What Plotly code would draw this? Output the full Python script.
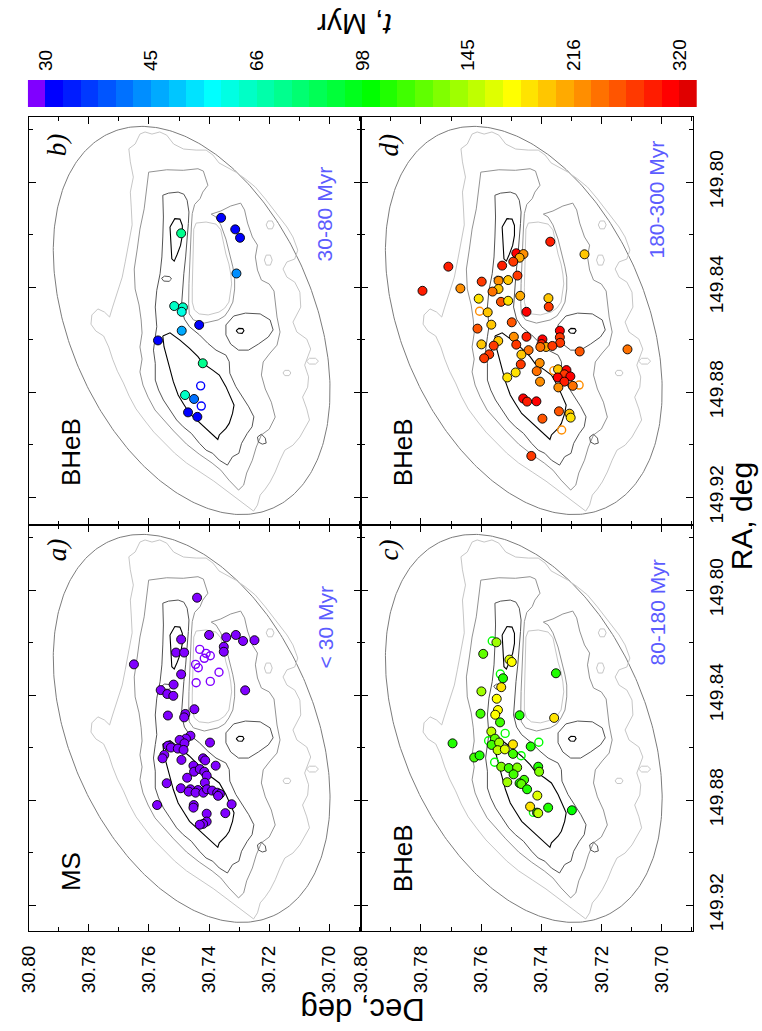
import numpy as np
import plotly.graph_objects as go

FIG_W, FIG_H = 762, 1031
SANS = "Liberation Sans, Arial, Helvetica, sans-serif"
SERIF = "Liberation Serif, Times New Roman, serif"

# ---------------------------------------------------------------- age scale
SCALE_COLORS = [
    "#8000ff", "#0000ff", "#001cff", "#0039ff", "#0055ff", "#0071ff", "#008eff",
    "#00aaff", "#00c6ff", "#00e3ff", "#00ffff", "#00ffe3", "#00ffc6", "#00ffaa",
    "#00ff8e", "#00ff71", "#00ff55", "#00ff39", "#00ff1c", "#00ff00", "#20ff00",
    "#40ff00", "#60ff00", "#80ff00", "#9fff00", "#bfff00", "#dfff00", "#ffff00",
    "#ffe300", "#ffc600", "#ffaa00", "#ff8e00", "#ff7100", "#ff5500", "#ff3900",
    "#ff1c00", "#ff0000", "#e00000",
]
AGE_TICK_LABELS = ["30", "45", "66", "98", "145", "216", "320"]
AGE_LOW, AGE_HIGH = 30.0, 320.0

# ---------------------------------------------------------------- stars
# a) MS, < 30 Myr
MS_AGE = 29.0
A_DEC = [30.7440, 30.7650, 30.7493, 30.7510, 30.7483, 30.7493, 30.7400, 30.7343, 30.7311, 30.7287,
         30.7249, 30.7351, 30.7351, 30.7280, 30.7518, 30.7561, 30.7539, 30.7519, 30.7449, 30.7537,
         30.7479, 30.7483, 30.7462, 30.7477, 30.7498, 30.7482, 30.7537, 30.7527, 30.7504, 30.7485,
         30.7397, 30.7549, 30.7555, 30.7492, 30.7420, 30.7413, 30.7378, 30.7452, 30.7450, 30.7431,
         30.7416, 30.7408, 30.7473, 30.7541, 30.7494, 30.7414, 30.7462, 30.7468, 30.7437, 30.7445,
         30.7419, 30.7407, 30.7390, 30.7373, 30.7364, 30.7370, 30.7325, 30.7573, 30.7451, 30.7452,
         30.7346, 30.7408, 30.7408, 30.7420, 30.7431]
A_RA = [149.8029, 149.8283, 149.8188, 149.8238, 149.8238, 149.8321, 149.8171, 149.8180, 149.8171, 149.8194,
        149.8191, 149.8216, 149.8235, 149.8382, 149.8360, 149.8381, 149.8396, 149.8403, 149.8454, 149.8478,
        149.8472, 149.8485, 149.8555, 149.8566, 149.8571, 149.8584, 149.8593, 149.8600, 149.8604, 149.8609,
        149.8581, 149.8628, 149.8641, 149.8647, 149.8641, 149.8649, 149.8669, 149.8669, 149.8692, 149.8682,
        149.8692, 149.8707, 149.8715, 149.8736, 149.8755, 149.8734, 149.8759, 149.8768, 149.8762, 149.8772,
        149.8772, 149.8759, 149.8764, 149.8772, 149.8777, 149.8784, 149.8816, 149.8819, 149.8819, 149.8829,
        149.8850, 149.8852, 149.8882, 149.8891, 149.8894]
A_OPEN_DEC = [30.7431, 30.7410, 30.7396, 30.7416, 30.7445, 30.7436, 30.7367, 30.7443, 30.7396]
A_OPEN_RA = [149.8226, 149.8241, 149.8250, 149.8260, 149.8283, 149.8296, 149.8313, 149.8353, 149.8348]

# b) BHeB, 30-80 Myr
B_DEC = [30.7360, 30.7313, 30.7297, 30.7309, 30.7493, 30.7516, 30.7487, 30.7491, 30.7433, 30.7491,
         30.7570, 30.7421, 30.7480, 30.7450, 30.7470, 30.7439]
B_RA = [149.8136, 149.8180, 149.8212, 149.8348, 149.8195, 149.8472, 149.8477, 149.8494, 149.8544, 149.8566,
        149.8603, 149.8690, 149.8811, 149.8826, 149.8877, 149.8894]
B_AGE = [31, 32, 31, 42, 75, 66, 64, 58, 31, 47, 31, 72, 64, 40, 31, 32]
B_OPEN_DEC = [30.7428, 30.7426]
B_OPEN_RA = [149.8776, 149.8853]
B_OPEN_AGE = [32, 32]

# c) BHeB, 80-180 Myr
C_DEC = [30.7549, 30.7593, 30.7506, 30.7498, 30.7527, 30.7351, 30.7599, 30.7533, 30.7548, 30.7544,
         30.7553, 30.7602, 30.7472, 30.7357, 30.7537, 30.7566, 30.7554, 30.7565, 30.7540, 30.7545,
         30.7521, 30.7494, 30.7695, 30.7435, 30.7623, 30.7605, 30.7494, 30.7533, 30.7508, 30.7480,
         30.7410, 30.7407, 30.7492, 30.7513, 30.7457, 30.7472, 30.7466, 30.7447, 30.7413, 30.7437,
         30.7377, 30.7298, 30.7414, 30.7410]
C_RA = [149.8199, 149.8243, 149.8265, 149.8274, 149.8336, 149.8317, 149.8386, 149.8370, 149.8414, 149.8457,
        149.8475, 149.8471, 149.8477, 149.8487, 149.8504, 149.8539, 149.8566, 149.8590, 149.8581, 149.8610,
        149.8607, 149.8588, 149.8584, 149.8596, 149.8638, 149.8630, 149.8624, 149.8673, 149.8678, 149.8676,
        149.8673, 149.8692, 149.8702, 149.8732, 149.8723, 149.8736, 149.8739, 149.8759, 149.8783, 149.8825,
        149.8829, 149.8839, 149.8848, 149.8850]
C_AGE = [145, 125, 165, 170, 110, 105, 140, 185, 172, 168,
         172, 112, 108, 178, 118, 150, 120, 115, 145, 150,
         160, 185, 108, 105, 112, 108, 115, 135, 115, 135,
         110, 135, 115, 140, 115, 108, 125, 110, 165, 188,
         108, 104, 110, 150]
C_OPEN_DEC = [30.7563, 30.7536, 30.7520, 30.7575, 30.7408, 30.7467, 30.7555, 30.7426]
C_OPEN_RA = [149.8194, 149.8320, 149.8546, 149.8574, 149.8580, 149.8631, 149.8656, 149.8847]
C_OPEN_AGE = [100, 100, 100, 100, 100, 100, 100, 100]

# d) BHeB, 180-300 Myr
D_DEC = [30.7370, 30.7256, 30.7709, 30.7795, 30.7483, 30.7459, 30.7472, 30.7493, 30.7530, 30.7479,
         30.7598, 30.7542, 30.7510, 30.7669, 30.7542, 30.7562, 30.7470, 30.7608, 30.7534, 30.7510,
         30.7376, 30.7375, 30.7449, 30.7578, 30.7498, 30.7566, 30.7612, 30.7338, 30.7338, 30.7337,
         30.7449, 30.7491, 30.7543, 30.7599, 30.7558, 30.7483, 30.7396, 30.7399, 30.7384, 30.7363,
         30.7403, 30.7442, 30.7272, 30.7113, 30.7573, 30.7590, 30.7466, 30.7468, 30.7405, 30.7415,
         30.7485, 30.7513, 30.7344, 30.7316, 30.7323, 30.7303, 30.7345, 30.7323, 30.7404, 30.7343,
         30.7295, 30.7460, 30.7447, 30.7416, 30.7341, 30.7306, 30.7302, 30.7396, 30.7433]
D_RA = [149.8227, 149.8275, 149.8322, 149.8414, 149.8271, 149.8274, 149.8288, 149.8303, 149.8318, 149.8356,
        149.8379, 149.8376, 149.8373, 149.8405, 149.8407, 149.8417, 149.8433, 149.8444, 149.8456, 149.8452,
        149.8442, 149.8475, 149.8494, 149.8496, 149.8534, 149.8543, 149.8558, 149.8566, 149.8591, 149.8612,
        149.8589, 149.8589, 149.8605, 149.8618, 149.8623, 149.8619, 149.8599, 149.8617, 149.8628, 149.8624,
        149.8628, 149.8640, 149.8645, 149.8637, 149.8656, 149.8671, 149.8657, 149.8694, 149.8689, 149.8720,
        149.8725, 149.8744, 149.8713, 149.8716, 149.8732, 149.8740, 149.8744, 149.8760, 149.8760, 149.8782,
        149.8776, 149.8824, 149.8836, 149.8835, 149.8873, 149.8882, 149.8897, 149.8901, 149.9043]
D_AGE = [285, 195, 290, 290, 300, 225, 205, 280, 285, 265,
         270, 225, 200, 220, 200, 235, 205, 185, 260, 185,
         200, 265, 305, 200, 260, 195, 260, 305, 265, 265,
         295, 230, 200, 200, 275, 265, 300, 290, 210, 275,
         240, 235, 260, 240, 280, 280, 195, 280, 230, 235,
         180, 180, 200, 300, 270, 300, 305, 285, 230, 220,
         235, 300, 285, 300, 260, 195, 180, 260, 265]
D_OPEN_DEC = [30.7605, 30.7358, 30.7274, 30.7332]
D_OPEN_RA = [149.8492, 149.8718, 149.8773, 149.8944]
D_OPEN_AGE = [230, 230, 230, 230]

# ---------------------------------------------------------------- isodensity contours
# lowest level (light grey): outer boundary, inner hole and small islands
L1_OUTER_DEC = [30.7667, 30.7646, 30.7630, 30.7613, 30.7590, 30.7564, 30.7541, 30.7518, 30.7485, 30.7443,
                30.7410, 30.7387, 30.7367, 30.7344, 30.7311, 30.7279, 30.7246, 30.7213, 30.7187, 30.7164,
                30.7141, 30.7121, 30.7105, 30.7115, 30.7141, 30.7154, 30.7141, 30.7115, 30.7098, 30.7095,
                30.7108, 30.7121, 30.7108, 30.7075, 30.7062, 30.7072, 30.7082, 30.7069, 30.7072, 30.7089,
                30.7075, 30.7066, 30.7082, 30.7098, 30.7121, 30.7148, 30.7164, 30.7180, 30.7197, 30.7213,
                30.7230, 30.7239, 30.7252,
                30.7295, 30.7338, 30.7384, 30.7430, 30.7475, 30.7515, 30.7551, 30.7584, 30.7613, 30.7643,
                30.7666, 30.7685, 30.7705, 30.7721, 30.7734, 30.7751, 30.7777, 30.7793, 30.7790, 30.7770,
                30.7748, 30.7731,
                30.7721, 30.7705, 30.7689, 30.7679, 30.7666, 30.7656, 30.7659, 30.7662, 30.7652, 30.7662]
L1_OUTER_RA = [149.7873, 149.7855, 149.7817, 149.7809, 149.7817, 149.7809, 149.7821, 149.7855, 149.7874, 149.7878,
               149.7878, 149.7897, 149.7927, 149.7942, 149.7962, 149.7988, 149.8019, 149.8064, 149.8102, 149.8133,
               149.8171, 149.8209, 149.8259, 149.8293, 149.8304, 149.8331, 149.8362, 149.8381, 149.8419, 149.8476,
               149.8506, 149.8533, 149.8571, 149.8598, 149.8636, 149.8666, 149.8697, 149.8742, 149.8781, 149.8819,
               149.8864, 149.8906, 149.8941, 149.8971, 149.9002, 149.9021, 149.9059, 149.9104, 149.9142, 149.9169,
               149.9192, 149.9230, 149.9253,
               149.9215, 149.9177, 149.9139, 149.9104, 149.9070, 149.9032, 149.8990, 149.8952, 149.8910, 149.8864,
               149.8815, 149.8765, 149.8720, 149.8674, 149.8628, 149.8586, 149.8567, 149.8541, 149.8506, 149.8483,
               149.8495, 149.8514,
               149.8476, 149.8419, 149.8362, 149.8304, 149.8228, 149.8163, 149.8095, 149.8038, 149.7981, 149.7923]
L1_HOLE_DEC = [30.7443, 30.7410, 30.7377, 30.7361, 30.7351, 30.7344, 30.7334, 30.7328, 30.7325, 30.7328,
               30.7334, 30.7348, 30.7367, 30.7403, 30.7433, 30.7449, 30.7456, 30.7456, 30.7454, 30.7452, 30.7451]
L1_HOLE_RA = [149.8156, 149.8152, 149.8160, 149.8182, 149.8236, 149.8274, 149.8312, 149.8350, 149.8388, 149.8419,
              149.8457, 149.8480, 149.8495, 149.8506, 149.8502, 149.8487, 149.8457, 149.8400, 149.8323, 149.8247,
              149.8179]
L1_ISLE1_DEC = [30.7154, 30.7148, 30.7134, 30.7128, 30.7134, 30.7148]
L1_ISLE1_RA = [149.8727, 149.8717, 149.8717, 149.8727, 149.8737, 149.8737]
L1_ISLE2_DEC = [30.7076, 30.7066, 30.7046, 30.7036, 30.7046, 30.7066]
L1_ISLE2_RA = [149.8682, 149.8671, 149.8671, 149.8682, 149.8693, 149.8693]
L1_ISLE3_DEC = [30.7210, 30.7204, 30.7190, 30.7184, 30.7190, 30.7204]
L1_ISLE3_RA = [149.8163, 149.8148, 149.8148, 149.8163, 149.8178, 149.8178]
L1_ISLE4_DEC = [30.7216, 30.7210, 30.7196, 30.7190, 30.7196, 30.7210]
L1_ISLE4_RA = [149.8297, 149.8278, 149.8278, 149.8297, 149.8316, 149.8316]

# second level (mid grey)
L2_DEC = [30.7601, 30.7541, 30.7486, 30.7437, 30.7419, 30.7410, 30.7404, 30.7421, 30.7430, 30.7448,
          30.7456, 30.7459, 30.7462, 30.7465, 30.7467, 30.7468, 30.7466, 30.7452, 30.7416, 30.7370,
          30.7348, 30.7334, 30.7321, 30.7315, 30.7315, 30.7321, 30.7331, 30.7344, 30.7361, 30.7377,
          30.7393, 30.7361, 30.7328, 30.7295, 30.7282, 30.7272, 30.7256, 30.7239, 30.7246, 30.7239,
          30.7226, 30.7200, 30.7184, 30.7180, 30.7174, 30.7164, 30.7174, 30.7197, 30.7220, 30.7226,
          30.7213, 30.7193, 30.7180, 30.7200, 30.7226, 30.7243, 30.7256, 30.7275, 30.7285, 30.7302,
          30.7334, 30.7361, 30.7390, 30.7433, 30.7475, 30.7518, 30.7551, 30.7580, 30.7603, 30.7620,
          30.7630, 30.7623, 30.7630, 30.7623, 30.7626, 30.7633, 30.7646, 30.7649, 30.7639, 30.7630,
          30.7616, 30.7607]
L2_RA = [149.7962, 149.7953, 149.7955, 149.7949, 149.7958, 149.7987, 149.8012, 149.8038, 149.8063, 149.8085,
         149.8120, 149.8171, 149.8235, 149.8311, 149.8387, 149.8463, 149.8502, 149.8525, 149.8537, 149.8525,
         149.8510, 149.8487, 149.8457, 149.8407, 149.8362, 149.8323, 149.8278, 149.8217, 149.8163, 149.8133,
         149.8122, 149.8110, 149.8091, 149.8080, 149.8106, 149.8156, 149.8209, 149.8240, 149.8285, 149.8335,
         149.8373, 149.8388, 149.8415, 149.8457, 149.8514, 149.8571, 149.8621, 149.8651, 149.8685, 149.8735,
         149.8788, 149.8838, 149.8895, 149.8941, 149.8963, 149.9009, 149.9059, 149.9108, 149.9154, 149.9173,
         149.9135, 149.9097, 149.9070, 149.9036, 149.8998, 149.8948, 149.8906, 149.8868, 149.8819, 149.8773,
         149.8723, 149.8674, 149.8628, 149.8575, 149.8525, 149.8468, 149.8407, 149.8331, 149.8255, 149.8179,
         149.8102, 149.8026]

# third level (dark grey)
L3_MAIN_DEC = [30.7554, 30.7535, 30.7503, 30.7484, 30.7473, 30.7467, 30.7469, 30.7473, 30.7478, 30.7484,
               30.7489, 30.7492, 30.7482, 30.7465, 30.7432, 30.7404, 30.7377, 30.7344, 30.7333, 30.7331,
               30.7311, 30.7290, 30.7268, 30.7251, 30.7257, 30.7273, 30.7292, 30.7301, 30.7322, 30.7339,
               30.7366, 30.7388, 30.7410, 30.7432, 30.7459, 30.7486, 30.7508, 30.7530, 30.7552, 30.7568,
               30.7579, 30.7579, 30.7585, 30.7579, 30.7574, 30.7579, 30.7574, 30.7563, 30.7557, 30.7554,
               30.7552]
L3_MAIN_RA = [149.8050, 149.8042, 149.8038, 149.8046, 149.8069, 149.8114, 149.8158, 149.8222, 149.8285, 149.8349,
              149.8412, 149.8476, 149.8522, 149.8551, 149.8582, 149.8614, 149.8640, 149.8659, 149.8684, 149.8728,
              149.8779, 149.8818, 149.8856, 149.8894, 149.8932, 149.8957, 149.8995, 149.9033, 149.9046, 149.9078,
              149.9059, 149.9033, 149.9021, 149.8995, 149.8957, 149.8932, 149.8906, 149.8868, 149.8830, 149.8792,
              149.8754, 149.8690, 149.8640, 149.8589, 149.8551, 149.8476, 149.8412, 149.8349, 149.8285, 149.8209,
              149.8133]
L3_EAST_DEC = [30.7318, 30.7279, 30.7230, 30.7197, 30.7187, 30.7203, 30.7236, 30.7269, 30.7302, 30.7328,
               30.7344, 30.7344]
L3_EAST_RA = [149.8510, 149.8499, 149.8502, 149.8525, 149.8563, 149.8590, 149.8617, 149.8640, 149.8640, 149.8617,
              149.8582, 149.8544]
L3_KNOT1_DEC = [30.7525, 30.7531, 30.7548, 30.7558, 30.7551, 30.7533]
L3_KNOT1_RA = [149.8369, 149.8360, 149.8358, 149.8366, 149.8377, 149.8378]
L3_KNOT2_DEC = [30.7239, 30.7226, 30.7213, 30.7210, 30.7223, 30.7236]
L3_KNOT2_RA = [149.8971, 149.8960, 149.8975, 149.8994, 149.8998, 149.8990]

# highest level (black)
L4_NORTH_DEC = [30.7530, 30.7514, 30.7497, 30.7489, 30.7489, 30.7495, 30.7506, 30.7516, 30.7524, 30.7526,
                30.7528, 30.7531]
L4_NORTH_RA = [149.8171, 149.8139, 149.8141, 149.8165, 149.8203, 149.8241, 149.8275, 149.8301, 149.8292, 149.8254,
               149.8216, 149.8190]
L4_BAR_DEC = [30.7554, 30.7530, 30.7497, 30.7465, 30.7437, 30.7421, 30.7388, 30.7366, 30.7344, 30.7328,
              30.7317, 30.7322, 30.7333, 30.7344, 30.7366, 30.7371, 30.7399, 30.7432, 30.7465, 30.7486,
              30.7503, 30.7519, 30.7530, 30.7541, 30.7550]
L4_BAR_RA = [149.8586, 149.8574, 149.8602, 149.8633, 149.8665, 149.8690, 149.8716, 149.8735, 149.8779, 149.8818,
             149.8849, 149.8881, 149.8919, 149.8938, 149.8963, 149.8980, 149.8951, 149.8913, 149.8881, 149.8843,
             149.8811, 149.8760, 149.8716, 149.8665, 149.8627]
L4_KNOT_DEC = [30.7310, 30.7301, 30.7288, 30.7284, 30.7290, 30.7303]
L4_KNOT_RA = [149.8566, 149.8557, 149.8558, 149.8566, 149.8576, 149.8575]

# field boundary ellipse
ELLIPSE_CENTER = (30.7458, 149.8527)
ELLIPSE_MAJOR = (-0.02711, 0.07143)
ELLIPSE_MINOR = (0.03721, 0.01905)

# axis extents
DEC_RANGE = [30.80, 30.6895]
RA_TOP_RANGE = [149.9306, 149.7752]
RA_BOTTOM_RANGE = [149.9299, 149.7752]

# ---------------------------------------------------------------- helpers
def pxx(x):
    return x / FIG_W


def pxy(y):
    return 1 - y / FIG_H


def closed(*loops):
    xs, ys = [], []
    for dec, ra in loops:
        xs += list(dec) + [dec[0], None]
        ys += list(ra) + [ra[0], None]
    return xs, ys


n_bins = len(SCALE_COLORS)
log_lo, log_hi = np.log10(AGE_LOW), np.log10(AGE_HIGH)
step = (log_hi - log_lo) / (n_bins - 2)
edges = log_lo + step * (np.arange(n_bins + 1) - 1)
centers = 0.5 * (edges[:-1] + edges[1:])
colorscale = []
for i, c in enumerate(SCALE_COLORS):
    colorscale.append([i / n_bins, c])
    colorscale.append([(i + 1) / n_bins, c])

tt = np.linspace(0, 2 * np.pi, 361)
ell_dec = ELLIPSE_CENTER[0] + np.cos(tt) * ELLIPSE_MAJOR[0] + np.sin(tt) * ELLIPSE_MINOR[0]
ell_ra = ELLIPSE_CENTER[1] + np.cos(tt) * ELLIPSE_MAJOR[1] + np.sin(tt) * ELLIPSE_MINOR[1]

levels = [
    (closed((L1_OUTER_DEC, L1_OUTER_RA), (L1_HOLE_DEC, L1_HOLE_RA), (L1_ISLE1_DEC, L1_ISLE1_RA),
            (L1_ISLE2_DEC, L1_ISLE2_RA), (L1_ISLE3_DEC, L1_ISLE3_RA), (L1_ISLE4_DEC, L1_ISLE4_RA)),
     "#c6c6c6", 1.0),
    (closed((L2_DEC, L2_RA)), "#939393", 1.0),
    (closed((L3_MAIN_DEC, L3_MAIN_RA), (L3_EAST_DEC, L3_EAST_RA), (L3_KNOT1_DEC, L3_KNOT1_RA),
            (L3_KNOT2_DEC, L3_KNOT2_RA)), "#555555", 1.0),
    (closed((L4_NORTH_DEC, L4_NORTH_RA), (L4_BAR_DEC, L4_BAR_RA), (L4_KNOT_DEC, L4_KNOT_RA)),
     "#000000", 1.1),
]

COL_L = [pxx(18), pxx(355)]
COL_R = [pxx(355), pxx(692)]
ROW_T = [pxy(525), pxy(117)]
ROW_B = [pxy(931), pxy(525)]

panels = [
    dict(key="", dx=COL_L, dy=ROW_T, ra=RA_TOP_RANGE, xlab=False, ylab=False,
         filled=(B_DEC, B_RA, B_AGE), empty=(B_OPEN_DEC, B_OPEN_RA, B_OPEN_AGE),
         letter="b)", kind="BHeB", ages="30-80 Myr", lx=47, ly=145, kx=61, ky=452, ax=318, ay=214),
    dict(key="2", dx=COL_R, dy=ROW_T, ra=RA_TOP_RANGE, xlab=False, ylab=True,
         filled=(D_DEC, D_RA, D_AGE), empty=(D_OPEN_DEC, D_OPEN_RA, D_OPEN_AGE),
         letter="d)", kind="BHeB", ages="180-300 Myr", lx=384, ly=145, kx=398, ky=452, ax=655, ay=200),
    dict(key="3", dx=COL_L, dy=ROW_B, ra=RA_BOTTOM_RANGE, xlab=True, ylab=False,
         filled=(A_DEC, A_RA, [MS_AGE] * len(A_DEC)), empty=(A_OPEN_DEC, A_OPEN_RA, [MS_AGE] * len(A_OPEN_DEC)),
         letter="a)", kind="MS", ages="&lt; 30 Myr", lx=47, ly=550, kx=61, ky=872, ax=319, ay=627),
    dict(key="4", dx=COL_R, dy=ROW_B, ra=RA_BOTTOM_RANGE, xlab=True, ylab=True,
         filled=(C_DEC, C_RA, C_AGE), empty=(C_OPEN_DEC, C_OPEN_RA, C_OPEN_AGE),
         letter="c)", kind="BHeB", ages="80-180 Myr", lx=384, ly=550, kx=398, ky=858, ax=655, ay=613),
]

fig = go.Figure()
layout = dict(
    width=FIG_W, height=FIG_H, margin=dict(l=0, r=0, t=0, b=0),
    paper_bgcolor="white", plot_bgcolor="white", showlegend=False,
    coloraxis=dict(colorscale=colorscale, cmin=edges[0], cmax=edges[-1], showscale=False),
    font=dict(family=SANS, color="black"),
)
annotations = []

for p in panels:
    xr, yr = "x" + p["key"], "y" + p["key"]
    fig.add_trace(go.Scatter(x=ell_dec, y=ell_ra, mode="lines", xaxis=xr, yaxis=yr,
                             line=dict(color="#7c7c7c", width=1.0), hoverinfo="skip"))
    for (xs, ys), col, w in levels:
        fig.add_trace(go.Scatter(x=xs, y=ys, mode="lines", xaxis=xr, yaxis=yr,
                                 line=dict(color=col, width=w), hoverinfo="skip", connectgaps=False))
    dec, ra, age = p["empty"]
    fig.add_trace(go.Scatter(x=dec, y=ra, mode="markers", xaxis=xr, yaxis=yr,
                             marker=dict(symbol="circle-open", size=8, color=np.log10(age),
                                         coloraxis="coloraxis", line=dict(width=1.4))))
    dec, ra, age = p["filled"]
    fig.add_trace(go.Scatter(x=dec, y=ra, mode="markers", xaxis=xr, yaxis=yr,
                             marker=dict(symbol="circle", size=9, color=np.log10(age),
                                         coloraxis="coloraxis", line=dict(color="black", width=0.9))))

    tickfont = dict(size=19, family=SANS, color="black")
    layout["xaxis" + p["key"]] = dict(
        domain=p["dx"], anchor=yr, range=DEC_RANGE, tickmode="linear", tick0=30.70, dtick=0.02,
        tickformat=".2f", showticklabels=p["xlab"], tickangle=-90, tickfont=tickfont,
        ticks="inside", ticklen=7, tickwidth=1.2, tickcolor="black", ticklabelstandoff=6,
        minor=dict(tick0=30.70, dtick=0.01, ticks="inside", ticklen=4, tickwidth=1.2, tickcolor="black"),
        showline=True, linecolor="black", linewidth=1.3, mirror="allticks",
        showgrid=False, zeroline=False, fixedrange=True)
    layout["yaxis" + p["key"]] = dict(
        domain=p["dy"], anchor=xr, range=p["ra"], tickmode="linear", tick0=149.80, dtick=0.04,
        tickformat=".2f", showticklabels=p["ylab"], side="right" if p["ylab"] else "left",
        tickangle=-90, tickfont=tickfont,
        ticks="inside", ticklen=7, tickwidth=1.2, tickcolor="black", ticklabelstandoff=6,
        minor=dict(tick0=149.80, dtick=0.02, ticks="inside", ticklen=4, tickwidth=1.2, tickcolor="black"),
        showline=True, linecolor="black", linewidth=1.3, mirror="allticks",
        showgrid=False, zeroline=False, fixedrange=True)

    annotations += [
        dict(text="<i>" + p["letter"] + "</i>", x=pxx(p["lx"]), y=pxy(p["ly"]), textangle=-90,
             font=dict(family=SERIF, size=27, color="black")),
        dict(text=p["kind"], x=pxx(p["kx"]), y=pxy(p["ky"]), textangle=-90,
             font=dict(family=SANS, size=26, color="black")),
        dict(text=p["ages"], x=pxx(p["ax"]), y=pxy(p["ay"]), textangle=-90,
             font=dict(family=SANS, size=21, color="#5c5cff")),
    ]

# colour bar drawn as a one-row heatmap on its own axis
fig.add_trace(go.Heatmap(x=edges, y=[0, 1], z=[centers], coloraxis="coloraxis",
                         xaxis="x5", yaxis="y5", hoverinfo="skip"))
layout["xaxis5"] = dict(
    domain=[pxx(17), pxx(696)], anchor="y5", range=[edges[0], edges[-1]], side="top",
    tickmode="array", tickvals=[edges[1 + 6 * i] for i in range(len(AGE_TICK_LABELS))],
    ticktext=AGE_TICK_LABELS, tickangle=-90, ticks="", ticklabelstandoff=8,
    tickfont=dict(size=19, family=SANS, color="black"),
    showline=False, showgrid=False, zeroline=False, fixedrange=True)
layout["yaxis5"] = dict(domain=[pxy(107), pxy(80)], anchor="x5", range=[0, 1],
                        visible=False, fixedrange=True)

annotations += [
    dict(text="Dec, deg", x=pxx(357), y=pxy(1010), textangle=180,
         font=dict(family=SANS, size=31, color="black")),
    dict(text="RA, deg", x=pxx(741), y=pxy(516), textangle=-90,
         font=dict(family=SANS, size=30, color="black")),
    dict(text="<i>t</i>, Myr", x=pxx(348), y=pxy(25), textangle=180,
         font=dict(family=SANS, size=30, color="black")),
]
for a in annotations:
    a.update(xref="paper", yref="paper", showarrow=False, xanchor="center", yanchor="middle")
layout["annotations"] = annotations

fig.update_layout(**layout)
fig.write_html("out.html")
